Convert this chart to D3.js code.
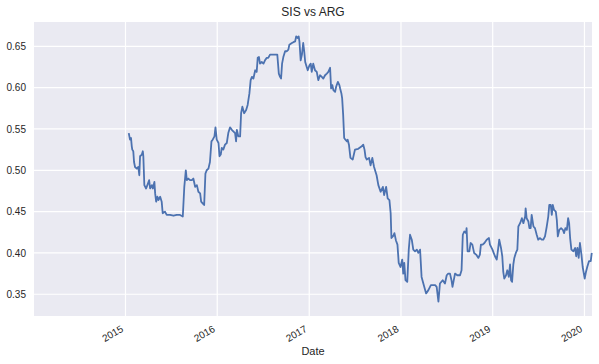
<!DOCTYPE html>
<head>
<meta charset="utf-8">
<title>SIS vs ARG</title>
<script type="text/javascript" src="https://d3js.org/d3.v7.min.js"></script>
<style>
    body { margin: 0; background: #fff; }
    text { font-family: "Liberation Sans", Arial, sans-serif; fill: #262626; }
</style>
</head>
<body>
    <div id="my_dataviz"></div>

<script>

    // series
    var dates = [
        "2015-01-14","2015-01-19","2015-01-23","2015-01-26","2015-01-28","2015-02-01","2015-02-04","2015-02-08","2015-02-15","2015-02-21",
        "2015-02-25","2015-02-28","2015-03-07","2015-03-11","2015-03-13","2015-03-17","2015-03-24","2015-03-29","2015-04-05","2015-04-09",
        "2015-04-16","2015-04-20","2015-04-26","2015-04-29","2015-05-03","2015-05-08","2015-05-12","2015-05-19","2015-05-25","2015-05-29",
        "2015-06-07","2015-06-14","2015-06-27","2015-07-11","2015-07-24","2015-08-06","2015-08-17","2015-08-23","2015-08-29","2015-09-02",
        "2015-09-08","2015-09-15","2015-09-22","2015-09-28","2015-10-05","2015-10-12","2015-10-18","2015-10-25","2015-10-29","2015-11-04",
        "2015-11-10","2015-11-15","2015-11-20","2015-11-27","2015-12-03","2015-12-09","2015-12-14","2015-12-21","2015-12-25","2015-12-30",
        "2016-01-06","2016-01-10","2016-01-15","2016-01-19","2016-01-25","2016-02-01","2016-02-08","2016-02-14","2016-02-21","2016-02-28",
        "2016-03-05","2016-03-12","2016-03-16","2016-03-19","2016-03-25","2016-04-01","2016-04-05","2016-04-10","2016-04-17","2016-04-25",
        "2016-05-01","2016-05-08","2016-05-13","2016-05-18","2016-05-24","2016-05-31","2016-06-06","2016-06-10","2016-06-15","2016-06-19",
        "2016-06-26","2016-07-03","2016-07-09","2016-07-16","2016-07-22","2016-07-29","2016-08-09","2016-08-18","2016-08-27","2016-09-02",
        "2016-09-07","2016-09-11","2016-09-15","2016-09-20","2016-09-27","2016-10-04","2016-10-10","2016-10-14","2016-10-24","2016-10-30",
        "2016-11-06","2016-11-10","2016-11-15","2016-11-20","2016-11-23","2016-11-28","2016-12-03","2016-12-08","2016-12-12","2016-12-16",
        "2016-12-22","2016-12-26","2017-01-02","2017-01-07","2017-01-11","2017-01-17","2017-01-24","2017-01-31","2017-02-06","2017-02-13",
        "2017-02-20","2017-02-26","2017-03-05","2017-03-12","2017-03-18","2017-03-25","2017-03-29","2017-04-03","2017-04-07","2017-04-14",
        "2017-04-18","2017-04-25","2017-05-01","2017-05-04","2017-05-09","2017-05-12","2017-05-16","2017-05-20","2017-05-25","2017-05-31",
        "2017-06-03","2017-06-08","2017-06-14","2017-06-23","2017-07-02","2017-07-15","2017-07-29","2017-08-04","2017-08-09","2017-08-13",
        "2017-08-18","2017-08-27","2017-09-02","2017-09-09","2017-09-16","2017-09-22","2017-09-26","2017-10-03","2017-10-12","2017-10-21",
        "2017-10-26","2017-11-03","2017-11-09","2017-11-16","2017-11-21","2017-11-24","2017-12-02","2017-12-06","2017-12-12","2017-12-18",
        "2017-12-23","2017-12-30","2018-01-06","2018-01-10","2018-01-14","2018-01-19","2018-01-26","2018-02-01","2018-02-06","2018-02-13",
        "2018-02-19","2018-02-26","2018-03-05","2018-03-11","2018-03-18","2018-03-24","2018-03-31","2018-04-11","2018-04-20","2018-04-30",
        "2018-05-07","2018-05-17","2018-05-23","2018-05-30","2018-06-05","2018-06-16","2018-06-25","2018-07-02","2018-07-08","2018-07-15",
        "2018-07-21","2018-07-25","2018-08-04","2018-08-13","2018-08-24","2018-08-30","2018-09-04","2018-09-10","2018-09-17","2018-09-19",
        "2018-09-23","2018-09-30","2018-10-05","2018-10-12","2018-10-19","2018-10-27","2018-11-05","2018-11-11","2018-11-15","2018-11-22",
        "2018-11-29","2018-12-08","2018-12-17","2018-12-21","2018-12-31","2019-01-10","2019-01-17","2019-01-23","2019-01-27","2019-02-03",
        "2019-02-08","2019-02-12","2019-02-16","2019-02-23","2019-02-28","2019-03-06","2019-03-11","2019-03-15","2019-03-19","2019-03-24",
        "2019-03-28","2019-04-03","2019-04-09","2019-04-13","2019-04-20","2019-04-27","2019-05-03","2019-05-10","2019-05-12","2019-05-16",
        "2019-05-23","2019-05-27","2019-06-01","2019-06-05","2019-06-12","2019-06-18","2019-06-25","2019-07-01","2019-07-08","2019-07-15",
        "2019-07-21","2019-07-28","2019-08-04","2019-08-10","2019-08-14","2019-08-20","2019-08-24","2019-08-28","2019-09-02","2019-09-09",
        "2019-09-13","2019-09-17","2019-09-23","2019-09-30","2019-10-07","2019-10-12","2019-10-17","2019-10-23","2019-10-28","2019-11-01",
        "2019-11-05","2019-11-10","2019-11-18","2019-11-25","2019-11-29","2019-12-04","2019-12-09","2019-12-14","2019-12-20","2019-12-25",
        "2020-01-02","2020-01-07","2020-01-12","2020-01-19","2020-01-26","2020-01-30"
    ];

    var values = [
        0.545, 0.537, 0.539, 0.529, 0.525, 0.523, 0.510, 0.504, 0.502, 0.504,
        0.494, 0.517, 0.519, 0.523, 0.517, 0.482, 0.478, 0.482, 0.488, 0.478,
        0.482, 0.478, 0.486, 0.472, 0.462, 0.468, 0.464, 0.468, 0.462, 0.448,
        0.450, 0.446, 0.446, 0.445, 0.446, 0.446, 0.444, 0.480, 0.500, 0.488,
        0.490, 0.488, 0.488, 0.490, 0.480, 0.482, 0.474, 0.472, 0.462, 0.460,
        0.458, 0.496, 0.500, 0.502, 0.510, 0.535, 0.537, 0.541, 0.552, 0.537,
        0.533, 0.517, 0.519, 0.527, 0.525, 0.531, 0.533, 0.545, 0.552, 0.549,
        0.547, 0.545, 0.535, 0.549, 0.541, 0.541, 0.569, 0.577, 0.569, 0.573,
        0.579, 0.593, 0.609, 0.613, 0.611, 0.621, 0.619, 0.636, 0.637, 0.629,
        0.631, 0.629, 0.633, 0.636, 0.636, 0.640, 0.640, 0.640, 0.640, 0.617,
        0.613, 0.611, 0.629, 0.637, 0.644, 0.644, 0.646, 0.652, 0.654, 0.655,
        0.656, 0.662, 0.660, 0.662, 0.656, 0.633, 0.640, 0.654, 0.644, 0.631,
        0.625, 0.621, 0.627, 0.629, 0.619, 0.629, 0.621, 0.619, 0.609, 0.615,
        0.613, 0.611, 0.615, 0.617, 0.619, 0.624, 0.599, 0.603, 0.597, 0.595,
        0.601, 0.607, 0.603, 0.599, 0.593, 0.587, 0.567, 0.539, 0.537, 0.535,
        0.537, 0.531, 0.515, 0.513, 0.525, 0.526, 0.529, 0.531, 0.525, 0.516,
        0.513, 0.515, 0.506, 0.515, 0.504, 0.498, 0.494, 0.482, 0.474, 0.480,
        0.470, 0.480, 0.466, 0.464, 0.448, 0.418, 0.421, 0.424, 0.415, 0.410,
        0.388, 0.383, 0.392, 0.375, 0.388, 0.367, 0.365, 0.404, 0.422, 0.416,
        0.404, 0.402, 0.404, 0.400, 0.404, 0.371, 0.363, 0.351, 0.355, 0.361,
        0.361, 0.361, 0.359, 0.341, 0.363, 0.367, 0.363, 0.373, 0.375, 0.375,
        0.367, 0.359, 0.375, 0.373, 0.373, 0.379, 0.422, 0.426, 0.424, 0.430,
        0.402, 0.402, 0.412, 0.410, 0.400, 0.398, 0.394, 0.398, 0.410, 0.410,
        0.412, 0.416, 0.418, 0.410, 0.404, 0.396, 0.392, 0.406, 0.416, 0.406,
        0.396, 0.377, 0.369, 0.373, 0.379, 0.371, 0.386, 0.367, 0.365, 0.386,
        0.394, 0.400, 0.404, 0.432, 0.436, 0.442, 0.436, 0.444, 0.454, 0.442,
        0.438, 0.430, 0.430, 0.446, 0.432, 0.430, 0.422, 0.416, 0.418, 0.416,
        0.416, 0.420, 0.432, 0.444, 0.458, 0.458, 0.446, 0.458, 0.452, 0.450,
        0.440, 0.420, 0.428, 0.430, 0.428, 0.424, 0.430, 0.428, 0.442, 0.436,
        0.418, 0.404, 0.402, 0.406, 0.396, 0.406, 0.394, 0.412, 0.398, 0.383,
        0.369, 0.377, 0.383, 0.390, 0.390, 0.400
    ];

    // axis ticks
    var yearTicks = ["2015", "2016", "2017", "2018", "2019", "2020"];
    var valueTicks = [0.35, 0.40, 0.45, 0.50, 0.55, 0.60, 0.65];
    var xRange = ["2014-01-02", "2020-01-31"];
    var yRange = [0.3237, 0.6794];

    var parseDate = d3.timeParse("%Y-%m-%d");
    var data = dates.map(function(d, i) { return { date: parseDate(d), value: values[i] }; });

    // set the dimensions and margins of the graph
    var margin = {top: 22, right: 7, bottom: 48, left: 34},
        width = 599 - margin.left - margin.right,
        height = 364 - margin.top - margin.bottom;

    var svg = d3.select("#my_dataviz")
      .append("svg")
        .attr("width", width + margin.left + margin.right)
        .attr("height", height + margin.top + margin.bottom)
      .append("g")
        .attr("transform", "translate(" + margin.left + "," + margin.top + ")");

    var x = d3.scaleTime()
      .domain(xRange.map(parseDate))
      .range([0, width]);

    var y = d3.scaleLinear()
      .domain(yRange)
      .range([height, 0]);

    // seaborn darkgrid background
    svg.append("rect")
      .attr("width", width)
      .attr("height", height)
      .attr("fill", "#eaeaf2");

    // grid
    svg.selectAll("hgrid")
      .data(valueTicks)
      .enter()
      .append("line")
        .attr("x1", 0)
        .attr("x2", width)
        .attr("y1", function(d) { return y(d); })
        .attr("y2", function(d) { return y(d); })
        .attr("stroke", "#fff")
        .attr("stroke-width", 1.2);

    svg.selectAll("vgrid")
      .data(yearTicks)
      .enter()
      .append("line")
        .attr("x1", function(d) { return x(d3.timeParse("%Y")(d)); })
        .attr("x2", function(d) { return x(d3.timeParse("%Y")(d)); })
        .attr("y1", 0)
        .attr("y2", height)
        .attr("stroke", "#fff")
        .attr("stroke-width", 1.2);

    // Y axis
    var yAxis = svg.append("g")
      .call(d3.axisLeft(y).tickValues(valueTicks).tickSize(0).tickPadding(8).tickFormat(d3.format(".2f")));
    yAxis.select(".domain").remove();
    yAxis.selectAll("text").style("font-size", "10px");

    // X axis
    var xAxis = svg.append("g")
      .attr("transform", "translate(0," + height + ")")
      .call(d3.axisBottom(x).tickValues(yearTicks.map(d3.timeParse("%Y"))).tickSize(0).tickFormat(d3.timeFormat("%Y")));
    xAxis.select(".domain").remove();
    xAxis.selectAll("text")
      .attr("y", 0)
      .attr("dy", 0)
      .attr("transform", "translate(-2,15)rotate(-30)")
      .style("text-anchor", "end")
      .style("font-size", "10px");

    // line
    svg.append("path")
      .datum(data)
      .attr("fill", "none")
      .attr("stroke", "#4c72b0")
      .attr("stroke-width", 1.8)
      .attr("stroke-linejoin", "round")
      .attr("d", d3.line()
        .x(function(d) { return x(d.date); })
        .y(function(d) { return y(d.value); }));

    svg.append("text")
      .attr("x", width / 2)
      .attr("y", -6)
      .attr("text-anchor", "middle")
      .style("font-size", "12px")
      .text("SIS vs ARG");

    svg.append("text")
      .attr("x", width / 2)
      .attr("y", height + 39)
      .attr("text-anchor", "middle")
      .style("font-size", "11px")
      .text("Date");

</script>
</body>
